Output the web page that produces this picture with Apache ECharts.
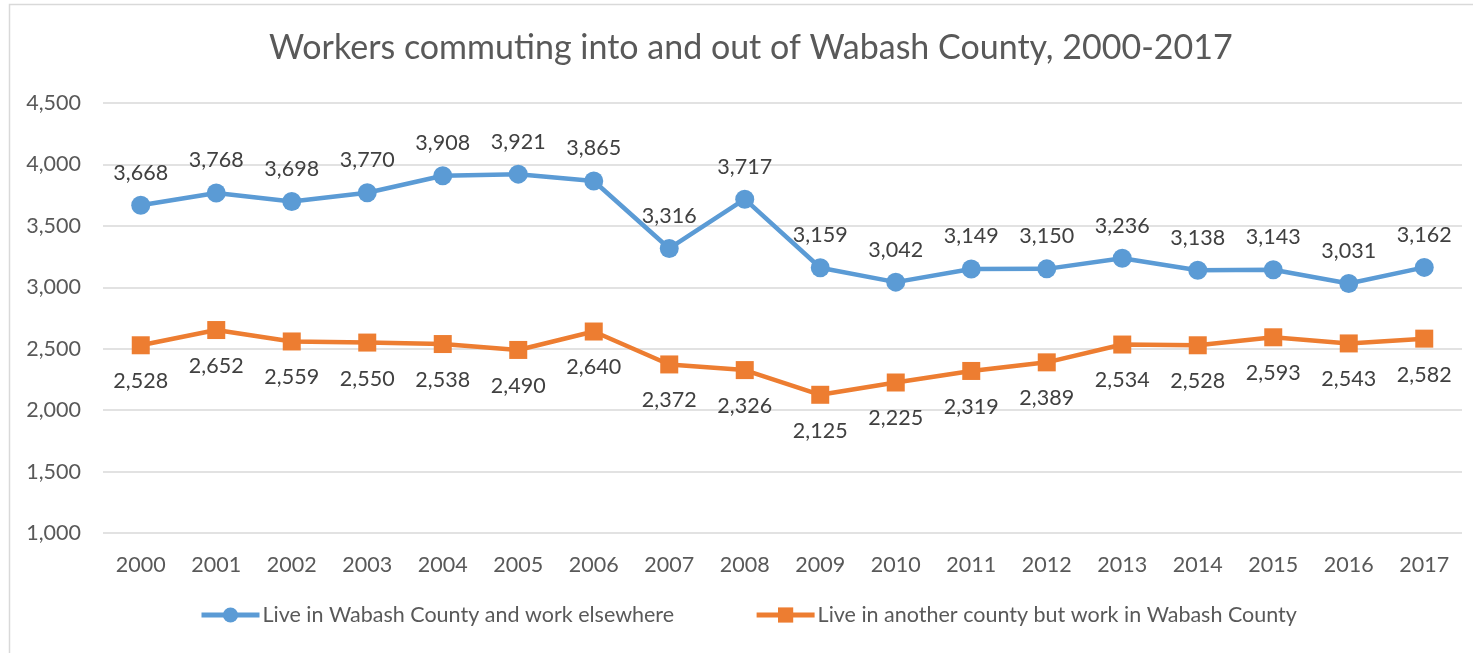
<!DOCTYPE html>
<html>
<head>
<meta charset="utf-8">
<title>Workers commuting into and out of Wabash County</title>
<script src="https://cdn.jsdelivr.net/npm/echarts@6/dist/echarts.min.js"></script>
<style>
  html, body { margin: 0; padding: 0; background: #ffffff; }
  #chart { width: 1473px; height: 653px; }
</style>
</head>
<body>
<div id="chart"></div>
<script>
// Commuting flows for Wabash County, 2000-2017
const years = ['2000', '2001', '2002', '2003', '2004', '2005', '2006', '2007', '2008',
  '2009', '2010', '2011', '2012', '2013', '2014', '2015', '2016', '2017'];
const liveHereWorkElsewhere = [3668, 3768, 3698, 3770, 3908, 3921, 3865, 3316, 3717,
  3159, 3042, 3149, 3150, 3236, 3138, 3143, 3031, 3162];
const liveElsewhereWorkHere = [2528, 2652, 2559, 2550, 2538, 2490, 2640, 2372, 2326,
  2125, 2225, 2319, 2389, 2534, 2528, 2593, 2543, 2582];
const seriesNames = ['Live in Wabash County and work elsewhere',
  'Live in another county but work in Wabash County'];
const titleText = 'Workers commuting into and out of Wabash County, 2000-2017';

const FONT = 'Lato, "Open Sans", sans-serif';
const fmt = v => v.toLocaleString('en-US');

const chart = echarts.init(document.getElementById('chart'), null, { renderer: 'canvas' });

chart.setOption({
  animation: false,
  backgroundColor: '#ffffff',
  textStyle: { fontFamily: FONT },
  graphic: [{
    type: 'rect',
    shape: { x: 9.5, y: 4.5, width: 1480, height: 680 },
    style: { fill: 'none', stroke: '#d9d9d9', lineWidth: 1.5 },
    silent: true,
    z: -1
  }],
  title: {
    text: titleText,
    left: 264,
    top: 26,
    textStyle: { fontFamily: FONT, fontSize: 34, fontWeight: 'normal', color: '#595959' }
  },
  legend: {
    bottom: 22,
    left: 194,
    itemWidth: 58,
    itemHeight: 19,
    itemGap: 80,
    lineStyle: { width: 5 },
    textStyle: { fontFamily: FONT, fontSize: 21.5, color: '#595959', padding: [0, 0, 0, -2] },
    data: seriesNames
  },
  grid: { left: 103, right: 11, top: 103, bottom: 120 },
  xAxis: {
    type: 'category',
    data: years,
    boundaryGap: true,
    axisLine: { show: false },
    axisTick: { show: false },
    axisLabel: { fontFamily: FONT, fontSize: 21.5, color: '#595959', margin: 21 }
  },
  yAxis: {
    type: 'value',
    min: 1000,
    max: 4500,
    interval: 500,
    axisLine: { show: false },
    axisTick: { show: false },
    axisLabel: { fontFamily: FONT, fontSize: 21.5, color: '#595959', margin: 22, formatter: fmt },
    splitLine: { lineStyle: { color: '#d9d9d9', width: 1.5 } }
  },
  series: [
    {
      name: seriesNames[0],
      type: 'line',
      data: liveHereWorkElsewhere,
      symbol: 'circle',
      symbolSize: 19,
      lineStyle: { color: '#5b9bd5', width: 4.5 },
      itemStyle: { color: '#5b9bd5' },
      label: {
        show: true,
        position: 'top',
        distance: 12,
        fontFamily: FONT,
        fontSize: 21.5,
        color: '#404040',
        formatter: p => fmt(p.value)
      }
    },
    {
      name: seriesNames[1],
      type: 'line',
      data: liveElsewhereWorkHere,
      symbol: 'rect',
      symbolSize: 18,
      lineStyle: { color: '#ed7d31', width: 4.5 },
      itemStyle: { color: '#ed7d31' },
      label: {
        show: true,
        position: 'bottom',
        distance: 16,
        fontFamily: FONT,
        fontSize: 21.5,
        color: '#404040',
        formatter: p => fmt(p.value)
      }
    }
  ]
});
</script>
</body>
</html>
